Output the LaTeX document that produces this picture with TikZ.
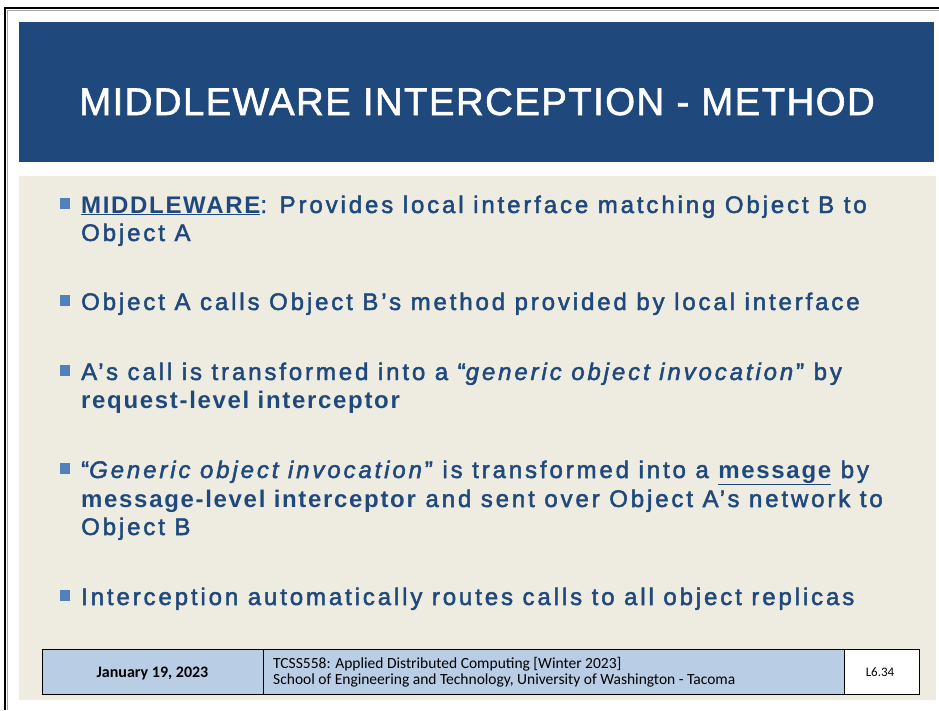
\documentclass[tikz,border=0pt]{standalone}
\usepackage{fontspec}
\setmainfont{Liberation Sans}
\newfontfamily\bodyf[LetterSpace=12, FakeBold=2]{Liberation Sans}
\newfontfamily\strongf[LetterSpace=7]{Liberation Sans}
\newfontfamily\titlef[LetterSpace=3.5, FakeBold=1.5]{Liberation Sans}
\newfontfamily\footf{Carlito}
\definecolor{titleblue}{HTML}{1F497D}
\definecolor{textblue}{HTML}{1F497D}
\definecolor{bulletblue}{HTML}{4F81BD}
\definecolor{tan}{HTML}{EEECE1}
\definecolor{footblue}{HTML}{B9CDE5}
\newcommand{\ulx}[1]{\underline{#1}}
\tikzset{
  line/.style={anchor=base west, inner sep=0pt, text=textblue, font=\bodyf\fontsize{24}{28}\selectfont},
  bulletsq/.style={fill=bulletblue, draw=none},
  footbox/.style={draw=black, line width=0.8pt},
  foottext/.style={anchor=base west, inner sep=0pt, font=\footf\fontsize{15.5}{17}\selectfont},
}
\begin{document}
\begin{tikzpicture}[x=1pt,y=-1pt]
\useasboundingbox (0,0) rectangle (939,710);
\fill[white] (0,0) rectangle (939,710);
% slide frame
\draw[black, line width=2.5pt] (5,710) -- (5,8) -- (939,8);
\draw[gray!70, line width=0.8pt] (7,710) -- (7,10) -- (939,10);
% title band
\fill[titleblue] (19,22) rectangle (934,162);
\node[anchor=base, inner sep=0pt, text=white, font=\titlef\fontsize{38.5}{44}\selectfont] (title) at (477,115) {MIDDLEWARE INTERCEPTION - METHOD};
% content area
\fill[tan] (19,176) rectangle (936,700);
% bullets
\foreach \b/\y in {1/213,2/310,3/380,4/478,5/605}{
  \fill[bulletsq] (60,\y-15) rectangle (70,\y-4);
}
\node[line] (l1a) at (81,213) {{\strongf\bfseries\ulx{MIDDLEWARE}}: Provides local interface matching Object B to};
\node[line] (l1b) at (81,241) {Object A};
\node[line] (l2a) at (81,310) {Object A calls Object B’s method provided by local interface};
\node[line] (l3a) at (81,380) {A’s call is transformed into a “\textit{generic object invocation}” by};
\node[line] (l3b) at (81,408) {{\strongf\bfseries request-level interceptor}};
\node[line] (l4a) at (81,478) {“\textit{Generic object invocation}” is transformed into a {\strongf\bfseries\ulx{message}} by};
\node[line] (l4b) at (81,507) {{\strongf\bfseries message-level interceptor} and sent over Object A’s network to};
\node[line] (l4c) at (81,535) {Object B};
\node[line] (l5a) at (81,605) {Interception automatically routes calls to all object replicas};
% footer
\fill[footblue] (42,649) rectangle (844,694);
\fill[white] (844,649) rectangle (919,694);
\draw[footbox] (42,649) rectangle (919,694);
\draw[footbox] (263,649) -- (263,694);
\draw[footbox] (844,649) -- (844,694);
\node[anchor=base, inner sep=0pt, font=\footf\bfseries\fontsize{16}{18}\selectfont] (date) at (152.5,677) {January 19, 2023};
\node[foottext] (course) at (273,668) {TCSS558: Applied Distributed Computing [Winter 2023]};
\node[foottext] (school) at (273,684.5) {School of Engineering and Technology, University of Washington - Tacoma};
\node[anchor=base, inner sep=0pt, font=\footf\fontsize{13}{15}\selectfont] (slide) at (880,676) {L6.34};
\end{tikzpicture}
\end{document}
